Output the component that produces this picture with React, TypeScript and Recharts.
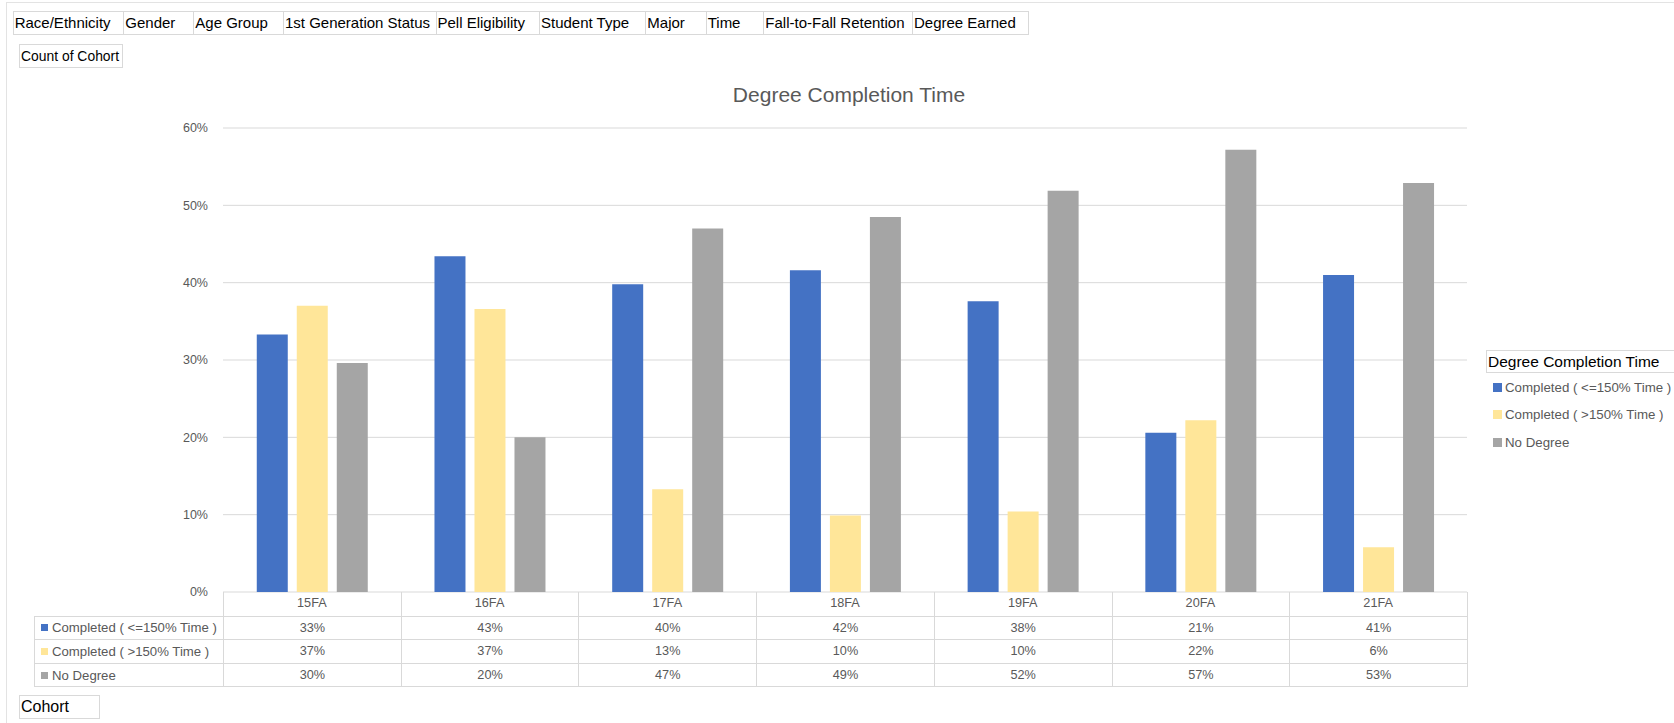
import React from "react"
import { Bar, BarChart, CartesianGrid, XAxis, YAxis } from "recharts"

const cohorts = ["15FA", "16FA", "17FA", "18FA", "19FA", "20FA", "21FA"]
const completedOnTime = [0.333, 0.434, 0.398, 0.416, 0.376, 0.206, 0.41]
const completedLate = [0.37, 0.366, 0.133, 0.099, 0.104, 0.222, 0.058]
const noDegree = [0.296, 0.2, 0.47, 0.485, 0.519, 0.572, 0.529]
const yTicks = [0, 0.1, 0.2, 0.3, 0.4, 0.5, 0.6]
const filterLabels = [
  "Race/Ethnicity",
  "Gender",
  "Age Group",
  "1st Generation Status",
  "Pell Eligibility",
  "Student Type",
  "Major",
  "Time",
  "Fall-to-Fall Retention",
  "Degree Earned",
]
// right edges of the slicer buttons
const filterEdges = [12.7, 123.3, 193.3, 283, 435.5, 539, 645.3, 705.7, 763.3, 912, 1027.7]

const series = [
  { key: "onTime", name: "Completed ( <=150% Time )", color: "#4472C4", values: completedOnTime },
  { key: "late", name: "Completed ( >150% Time )", color: "#FFE699", values: completedLate },
  { key: "none", name: "No Degree", color: "#A5A5A5", values: noDegree },
]

const data = cohorts.map((c, i) => ({
  cohort: c,
  onTime: completedOnTime[i],
  late: completedLate[i],
  none: noDegree[i],
}))

const FONT = "'Liberation Sans', Arial, sans-serif"
const GRID = "#d9d9d9"
const TEXT = "#595959"

const W = 1674
const H = 723
const PLOT_LEFT = 223
const PLOT_RIGHT = 1467
const PLOT_TOP = 128
const PLOT_BOTTOM = 592
const Y_AXIS_W = 60
const X_AXIS_H = 24
const COL_W = (PLOT_RIGHT - PLOT_LEFT) / cohorts.length
const ROW_H = 23.6

const pct = (v: number) => `${Math.round(v * 100)}%`

function Button({ label, left, top, width, height = 24, fontSize = 15 }: { label: string; left: number; top: number; width: number; height?: number; fontSize?: number }) {
  return (
    <div
      style={{
        position: "absolute",
        left,
        top,
        width,
        height,
        boxSizing: "border-box",
        border: `1px solid ${GRID}`,
        background: "#fff",
        fontSize,
        lineHeight: `${height - 2}px`,
        paddingLeft: 1,
        whiteSpace: "nowrap",
        overflow: "hidden",
        color: "#000",
      }}
    >
      {label}
    </div>
  )
}

function LegendBox() {
  return (
    <div style={{ position: "absolute", left: 1486, top: 350, width: 200 }}>
      <div
        style={{
          width: 200,
          height: 23,
          boxSizing: "border-box",
          border: `1px solid ${GRID}`,
          fontSize: 15.5,
          lineHeight: "21px",
          paddingLeft: 1,
          color: "#000",
          background: "#fff",
          whiteSpace: "nowrap",
        }}
      >
        Degree Completion Time
      </div>
      {series.map((s, i) => (
        <div
          key={s.key}
          style={{
            position: "absolute",
            left: 7,
            top: 37 + i * 27.5 - 9,
            height: 18,
            display: "flex",
            alignItems: "center",
            fontSize: 13.3,
            color: TEXT,
            whiteSpace: "nowrap",
          }}
        >
          <span style={{ width: 9, height: 9, background: s.color, marginRight: 3, display: "inline-block" }} />
          {s.name}
        </div>
      ))}
    </div>
  )
}

export default function App() {
  return (
    <div style={{ position: "relative", width: W, height: H, fontFamily: FONT, background: "#fff", overflow: "hidden" }}>
      <style>{"body{margin:0}"}</style>
      <div
        style={{
          position: "absolute",
          left: 6,
          top: 2,
          width: 1700,
          height: 800,
          borderTop: "1px solid #e3e3e3",
          borderLeft: "1px solid #e3e3e3",
        }}
      />
      {filterLabels.map((label, i) => (
        <Button
          key={label}
          label={label}
          left={filterEdges[i]}
          top={11}
          width={filterEdges[i + 1] - filterEdges[i] + 1}
        />
      ))}
      <Button label="Count of Cohort" left={19} top={44} width={104} fontSize={13.9} />

      <div
        style={{
          position: "absolute",
          left: 649,
          width: 400,
          top: 82,
          textAlign: "center",
          fontSize: 21,
          lineHeight: "26px",
          color: TEXT,
        }}
      >
        Degree Completion Time
      </div>

      <div style={{ position: "absolute", left: 0, top: 0 }}>
        <BarChart
          width={W}
          height={H}
          data={data}
          margin={{ top: PLOT_TOP, right: W - PLOT_RIGHT, bottom: H - PLOT_BOTTOM - X_AXIS_H, left: PLOT_LEFT - Y_AXIS_W }}
          barCategoryGap="19%"
          barGap={9}
        >
          <CartesianGrid vertical={false} stroke={GRID} />
          <XAxis
            dataKey="cohort"
            height={X_AXIS_H}
            axisLine={false}
            tickLine={false}
            tick={{ fill: TEXT, fontSize: 12.7, fontFamily: FONT }}
            tickMargin={0}
          />
          <YAxis
            width={Y_AXIS_W}
            domain={[0, 0.6]}
            ticks={yTicks}
            axisLine={false}
            tickLine={false}
            tickMargin={9}
            tick={{ fill: TEXT, fontSize: 12.5, fontFamily: FONT }}
            tickFormatter={(v: number) => pct(v)}
          />
          {series.map((s) => (
            <Bar key={s.key} dataKey={s.key} name={s.name} fill={s.color} isAnimationActive={false} />
          ))}
        </BarChart>
      </div>

      <LegendBox />

      {/* data table under the plot */}
      {cohorts.map((c, i) => (
        <div
          key={c}
          style={{
            position: "absolute",
            left: PLOT_LEFT + i * COL_W,
            top: PLOT_BOTTOM,
            width: COL_W + (i === cohorts.length - 1 ? 1 : 0),
            height: ROW_H,
            boxSizing: "border-box",
            borderLeft: `1px solid ${GRID}`,
            borderRight: i === cohorts.length - 1 ? `1px solid ${GRID}` : undefined,
          }}
        />
      ))}
      {series.map((s, r) => {
        const top = PLOT_BOTTOM + ROW_H * (r + 1)
        const last = r === series.length - 1
        return (
          <div key={s.key}>
            <div
              style={{
                position: "absolute",
                left: 34,
                top,
                width: PLOT_LEFT - 34,
                height: ROW_H + (last ? 1 : 0),
                boxSizing: "border-box",
                borderTop: `1px solid ${GRID}`,
                borderLeft: `1px solid ${GRID}`,
                borderBottom: last ? `1px solid ${GRID}` : undefined,
                display: "flex",
                alignItems: "center",
                paddingLeft: 6,
                fontSize: 13.2,
                color: TEXT,
                whiteSpace: "nowrap",
              }}
            >
              <span style={{ width: 7, height: 7, background: s.color, marginRight: 4, display: "inline-block" }} />
              {s.name}
            </div>
            {s.values.map((v, i) => (
              <div
                key={i}
                style={{
                  position: "absolute",
                  left: PLOT_LEFT + i * COL_W,
                  top,
                  width: COL_W + (i === cohorts.length - 1 ? 1 : 0),
                  height: ROW_H + (last ? 1 : 0),
                  boxSizing: "border-box",
                  borderTop: `1px solid ${GRID}`,
                  borderLeft: `1px solid ${GRID}`,
                  borderRight: i === cohorts.length - 1 ? `1px solid ${GRID}` : undefined,
                  borderBottom: last ? `1px solid ${GRID}` : undefined,
                  textAlign: "center",
                  lineHeight: `${ROW_H - 1}px`,
                  fontSize: 12.7,
                  color: TEXT,
                }}
              >
                {pct(v)}
              </div>
            ))}
          </div>
        )
      })}
      <Button label="Cohort" left={19} top={695} width={81} height={24} fontSize={16} />
    </div>
  )
}
